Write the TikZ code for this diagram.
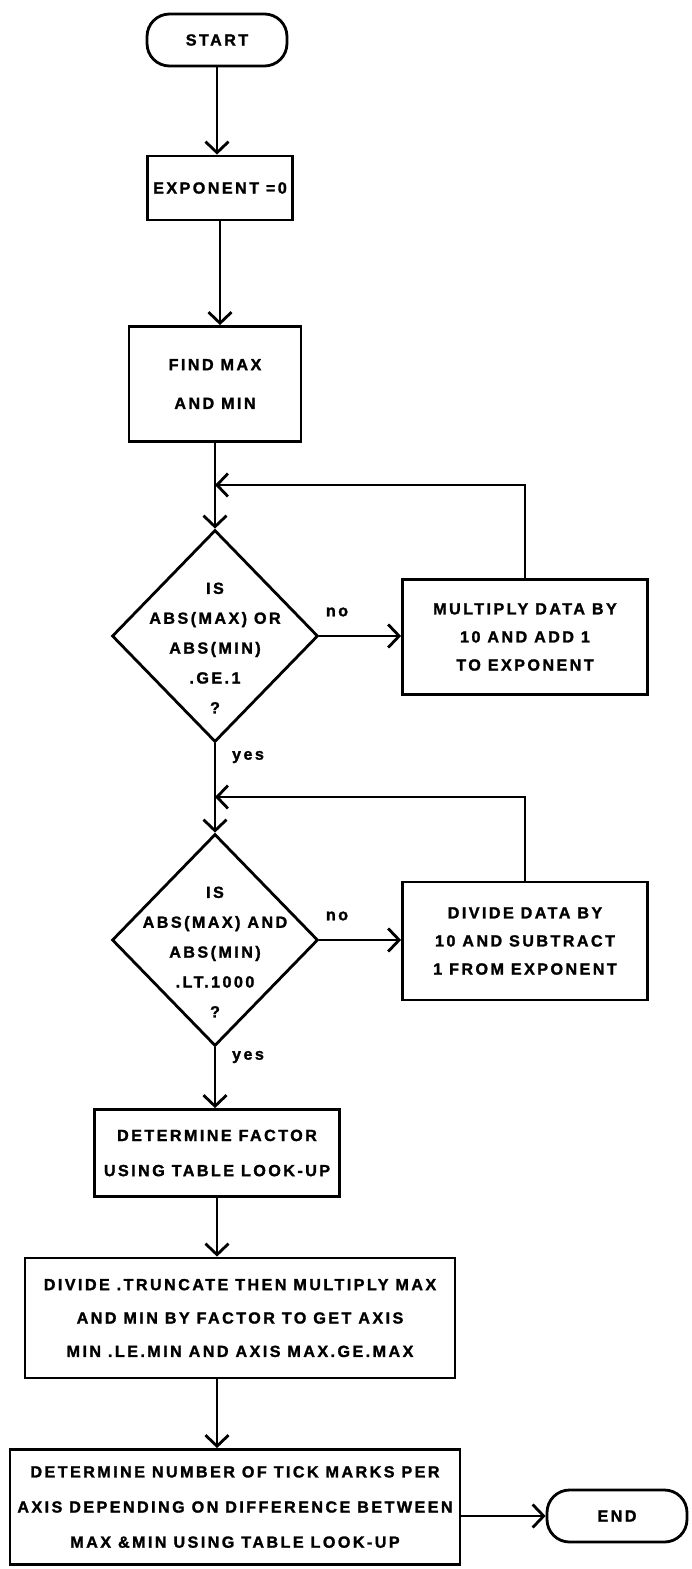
\documentclass[tikz,border=0pt]{standalone}
\usepackage{fontspec}
\setmainfont{Liberation Sans}[LetterSpace=15,BoldFeatures={FakeBold=1.5}]
\usetikzlibrary{shapes.geometric,arrows.meta}

\begin{document}
\begin{tikzpicture}[x=0.02cm,y=-0.02cm,
  every node/.style={font=\fontsize{9.2}{16}\selectfont\bfseries,align=center,inner sep=0pt},
  term/.style={draw,line width=1.6pt,rounded corners=0.45cm,minimum width=2.8cm,minimum height=1.04cm},
  proc/.style={draw,line width=1.6pt},
  decision/.style={draw,diamond,line width=1.6pt,minimum width=4.12cm,minimum height=4.24cm},
  qtext/.style={font=\fontsize{9.2}{17}\selectfont\bfseries},
  arr/.style={line width=1.6pt,-{Straight Barb[length=2.2mm,width=4.6mm]}}]
\useasboundingbox (0,0) rectangle (692,1569);
\node[term] (start) at (217,40) {START};
\node[proc,minimum width=2.9cm,minimum height=1.28cm] (expo) at (220,188) {EXPONENT =0};
\node[proc,minimum width=3.44cm,minimum height=2.3cm] (findmax) at (215,384) {FIND MAX\\[6pt]AND MIN};
\coordinate (j1) at (215,485);
\node[decision] (dec1) at (215,636) {};
\node[qtext] (q1) at (215,648) {IS\\ABS(MAX) OR\\ABS(MIN)\\.GE.1\\?};
\node[proc,minimum width=4.9cm,minimum height=2.3cm] (mult) at (525,637) {MULTIPLY DATA BY\\10 AND ADD 1\\TO EXPONENT};
\coordinate (j2) at (215,797);
\node[decision] (dec2) at (215,940) {};
\node[qtext] (q2) at (215,952) {IS\\ABS(MAX) AND\\ABS(MIN)\\.LT.1000\\?};
\node[proc,minimum width=4.9cm,minimum height=2.36cm] (divd) at (525,941) {DIVIDE DATA BY\\10 AND SUBTRACT\\1 FROM EXPONENT};
\node[proc,minimum width=4.9cm,minimum height=1.74cm] (factor) at (217,1153) {DETERMINE FACTOR\\[4pt]USING TABLE LOOK-UP};
\node[proc,minimum width=8.6cm,minimum height=2.4cm] (trunc) at (240,1318) {DIVIDE .TRUNCATE THEN MULTIPLY MAX\\[3pt]AND MIN BY FACTOR TO GET AXIS\\[3pt]MIN .LE.MIN AND AXIS MAX.GE.MAX};
\node[proc,minimum width=9cm,minimum height=2.3cm] (ticks) at (235,1507) {DETERMINE NUMBER OF TICK MARKS PER\\[4pt]AXIS DEPENDING ON DIFFERENCE BETWEEN\\[4pt]MAX \&MIN USING TABLE LOOK-UP};
\node[term] (end) at (617,1516) {END};
% labels
\node (no1) at (337,612) {no};
\node (yes1) at (248,757) {yes};
\node (no2) at (337,916) {no};
\node (yes2) at (248,1057) {yes};
% main line
\foreach \a/\b in {start/expo,expo/findmax,findmax/dec1,dec1/dec2,dec2/factor,factor/trunc}
  \draw[arr] (\a.south) -- (\a.south |- \b.north);
\draw[arr] (trunc.south -| factor) -- (ticks.north -| factor);
\draw[arr] (ticks.east |- end) -- (end.west);
% no branches and loops
\draw[arr] (dec1.east) -- (dec1.east -| mult.west);
\draw[arr] (dec2.east) -- (dec2.east -| divd.west);
\draw[arr] (mult.north) |- (j1);
\draw[arr] (divd.north) |- (j2);
\end{tikzpicture}
\end{document}
